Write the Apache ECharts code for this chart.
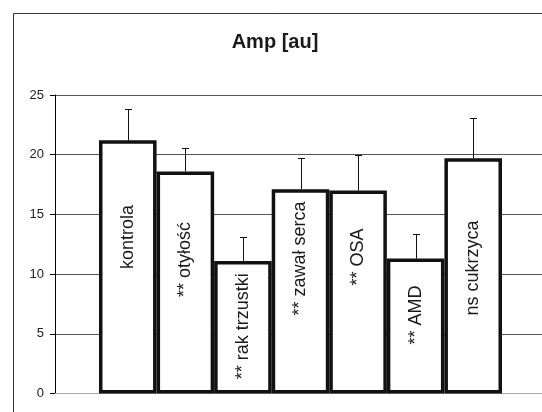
<!DOCTYPE html>
<html>
<head>
<meta charset="utf-8">
<script src="https://cdn.jsdelivr.net/npm/echarts@6/dist/echarts.min.js"></script>
<style>
html,body{margin:0;padding:0;background:#fff;}
#c{width:542px;height:412px;}
</style>
</head>
<body>
<div id="c"></div>
<script>
// ---- data ----
const categories = ['kontrola', 'otyłość', 'rak trzustki', 'zawał serca', 'OSA', 'AMD', 'cukrzyca'];
const significance = ['', '**', '**', '**', '**', '**', 'ns'];
const means = [21.2, 18.6, 11.1, 17.1, 17.0, 11.3, 19.7];
const sdUpper = [2.6, 2.0, 2.0, 2.65, 3.0, 2.1, 3.35];
const yTicks = [0, 5, 10, 15, 20, 25];
const titleText = 'Amp [au]';

// ---- styling (label lift in px above the bar centre) ----
const labelLift = [30, 23, 1, 33, 35, 11, 8];
const FONT = '"Liberation Sans", Arial, sans-serif';

const labels = categories.map((c, i) => significance[i] ? significance[i] + ' ' + c : c);

const chart = echarts.init(document.getElementById('c'), null, {renderer: 'canvas'});
const plotTop = 95, plotBottom = 18.5;

const option = {
  animation: false,
  backgroundColor: '#fff',
  graphic: [
    {type: 'rect', silent: true, z: -10,
     shape: {x: 13.5, y: 13.5, width: 600, height: 500},
     style: {fill: null, stroke: '#333', lineWidth: 1}},
    {type: 'text', x: 275, y: 42, z: 10,
     style: {text: titleText, font: 'bold 20px ' + FONT, textAlign: 'center', textVerticalAlign: 'middle', fill: '#1a1a1a'}}
  ],
  grid: [
    {left: 55, right: 0, top: plotTop, bottom: plotBottom},
    {left: 99, right: 40, top: plotTop, bottom: plotBottom}
  ],
  xAxis: [
    {gridIndex: 0, type: 'category', data: [''],
     axisLine: {show: true, lineStyle: {color: '#aaa', width: 1}},
     axisTick: {show: false}, axisLabel: {show: false}, splitLine: {show: false}},
    {gridIndex: 1, type: 'category', data: labels, show: false}
  ],
  yAxis: [
    {gridIndex: 0, type: 'value', min: yTicks[0], max: yTicks[yTicks.length - 1], interval: yTicks[1] - yTicks[0],
     axisLine: {show: true, lineStyle: {color: '#000', width: 1}},
     axisTick: {show: true, length: 5, lineStyle: {color: '#000', width: 1}},
     axisLabel: {fontSize: 13, color: '#222', margin: 11, fontFamily: FONT},
     splitLine: {show: true, lineStyle: {color: '#555', width: 1}}},
    {gridIndex: 1, type: 'value', min: yTicks[0], max: yTicks[yTicks.length - 1], interval: yTicks[1] - yTicks[0], show: false}
  ],
  series: [
    {
      type: 'bar', xAxisIndex: 1, yAxisIndex: 1, z: 3,
      barCategoryGap: '0%',
      data: means.map((v, i) => ({value: v, label: {offset: [labelLift[i], 0]}})),
      itemStyle: {color: '#fff', borderColor: '#111', borderWidth: 3.5},
      label: {
        show: true, position: 'inside', rotate: 90,
        formatter: p => labels[p.dataIndex],
        fontSize: 18, color: '#1a1a1a', fontFamily: FONT
      }
    },
    {
      type: 'custom', xAxisIndex: 1, yAxisIndex: 1, z: 4,
      data: means.map((v, i) => [i, v, v + sdUpper[i]]),
      renderItem: (params, api) => {
        const base = api.coord([api.value(0), api.value(1)]);
        const top = api.coord([api.value(0), api.value(2)]);
        const x = Math.round(base[0]) + 0.5;
        const yt = Math.round(top[1]) + 0.5;
        const w = 3.5;
        return {type: 'group', children: [
          {type: 'line', shape: {x1: x, y1: base[1], x2: x, y2: yt}, style: {stroke: '#111', lineWidth: 1}},
          {type: 'line', shape: {x1: x - w, y1: yt, x2: x + w, y2: yt}, style: {stroke: '#111', lineWidth: 1}}
        ]};
      }
    }
  ]
};
chart.setOption(option);
</script>
</body>
</html>
